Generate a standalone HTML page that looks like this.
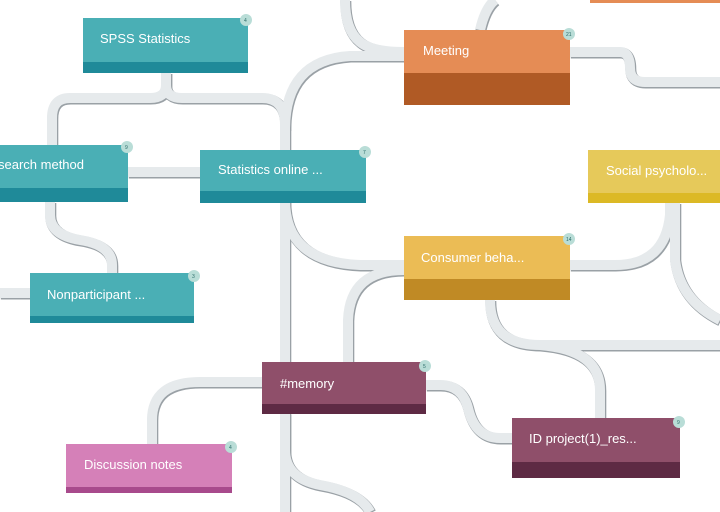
<!DOCTYPE html>
<html><head><meta charset="utf-8">
<style>
html,body{margin:0;padding:0;background:#fff;}
svg{display:block;}
text{font-family:"Liberation Sans",sans-serif;fill:#fff;font-size:13px;}
.b{font-size:5px;fill:#2a6b68;}
</style></head>
<body>
<svg width="720" height="512" viewBox="0 0 720 512">
<g fill="none" stroke-linecap="butt">
<g stroke="#9aa1a6" stroke-width="11" transform="translate(0.8,1)">
<path d="M166,73 V85 Q166,98 150,98 H70 Q52,98 52,118 V145"/>
<path d="M166,73 V85 Q166,98 182,98 H262 Q285,98 285,125 V512"/>
<path d="M128,172 H200"/>
<path d="M50,202 V215 Q50,235 80,240 Q112,245 112,265 V273"/>
<path d="M0,293 H30"/>
<path d="M285,130 Q285,60 350,56 H404"/>
<path d="M345,0 Q345,30 360,42 Q372,52 404,52"/>
<path d="M495,0 Q485,8 480,30"/>
<path d="M285,200 Q285,262 360,265 H404"/>
<path d="M404,270 Q350,270 348,320 V362"/>
<path d="M570,52 H620 Q630,52 630,68 Q630,82 645,82 H720"/>
<path d="M570,265 H615 Q665,265 670,215 V203"/>
<path d="M675,203 V260 Q680,300 720,320"/>
<path d="M490,300 Q490,345 540,345 H720"/>
<path d="M540,345 Q600,350 600,390 V418"/>
<path d="M262,382 H200 Q152,382 152,420 V444"/>
<path d="M426,385 H440 Q462,385 468,408 Q475,438 500,438 H512"/>
<path d="M285,414 V450 Q285,478 320,485 Q360,492 370,512"/>
</g>
<g stroke="#e6eaec" stroke-width="10">
<path d="M166,73 V85 Q166,98 150,98 H70 Q52,98 52,118 V145"/>
<path d="M166,73 V85 Q166,98 182,98 H262 Q285,98 285,125 V512"/>
<path d="M128,172 H200"/>
<path d="M50,202 V215 Q50,235 80,240 Q112,245 112,265 V273"/>
<path d="M0,293 H30"/>
<path d="M285,130 Q285,60 350,56 H404"/>
<path d="M345,0 Q345,30 360,42 Q372,52 404,52"/>
<path d="M495,0 Q485,8 480,30"/>
<path d="M285,200 Q285,262 360,265 H404"/>
<path d="M404,270 Q350,270 348,320 V362"/>
<path d="M570,52 H620 Q630,52 630,68 Q630,82 645,82 H720"/>
<path d="M570,265 H615 Q665,265 670,215 V203"/>
<path d="M675,203 V260 Q680,300 720,320"/>
<path d="M490,300 Q490,345 540,345 H720"/>
<path d="M540,345 Q600,350 600,390 V418"/>
<path d="M262,382 H200 Q152,382 152,420 V444"/>
<path d="M426,385 H440 Q462,385 468,408 Q475,438 500,438 H512"/>
<path d="M285,414 V450 Q285,478 320,485 Q360,492 370,512"/>
</g>
</g>

<rect x="590" y="0" width="130" height="3" fill="#e58c55"/>

<g>
<rect x="83" y="18" width="165" height="55" fill="#4aafb5"/><rect x="83" y="62" width="165" height="11" fill="#1f8a99"/>
<text x="100" y="43">SPSS Statistics</text>
<circle cx="246" cy="20" r="6" fill="#b9ddd7"/><text class="b" x="244" y="22">4</text></g>

<g>
<rect x="0" y="145" width="128" height="57" fill="#4aafb5"/><rect x="0" y="188" width="128" height="14" fill="#1f8a99"/>
<text x="-2" y="169">search method</text>
<circle cx="127" cy="147" r="6" fill="#b9ddd7"/><text class="b" x="125" y="149">9</text></g>

<g>
<rect x="200" y="150" width="166" height="53" fill="#4aafb5"/><rect x="200" y="191" width="166" height="12" fill="#1f8a99"/>
<text x="218" y="174">Statistics online ...</text>
<circle cx="365" cy="152" r="6" fill="#b9ddd7"/><text class="b" x="363" y="154">7</text></g>

<g>
<rect x="30" y="273" width="164" height="50" fill="#4aafb5"/><rect x="30" y="316" width="164" height="7" fill="#1f8a99"/>
<text x="47" y="299">Nonparticipant ...</text>
<circle cx="194" cy="276" r="6" fill="#b9ddd7"/><text class="b" x="192" y="278">3</text></g>

<g>
<rect x="404" y="30" width="166" height="75" fill="#e58c55"/><rect x="404" y="73" width="166" height="32" fill="#b05a25"/>
<text x="423" y="55">Meeting</text>
<circle cx="569" cy="34" r="6" fill="#b9ddd7"/><text class="b" x="566" y="36">21</text></g>

<g>
<rect x="588" y="150" width="132" height="53" fill="#e6c95a"/><rect x="588" y="193" width="132" height="10" fill="#dcb925"/>
<text x="606" y="175">Social psycholo...</text></g>

<g>
<rect x="404" y="236" width="166" height="64" fill="#ebbc55"/><rect x="404" y="279" width="166" height="21" fill="#c08a25"/>
<text x="421" y="262">Consumer beha...</text>
<circle cx="569" cy="239" r="6" fill="#b9ddd7"/><text class="b" x="566" y="241">14</text></g>

<g>
<rect x="262" y="362" width="164" height="52" fill="#8f4f6a"/><rect x="262" y="404" width="164" height="10" fill="#5e2a44"/>
<text x="280" y="388">#memory</text>
<circle cx="425" cy="366" r="6" fill="#b9ddd7"/><text class="b" x="423" y="368">5</text></g>

<g>
<rect x="512" y="418" width="168" height="60" fill="#8f4f6a"/><rect x="512" y="462" width="168" height="16" fill="#5e2a44"/>
<text x="529" y="443">ID project(1)_res...</text>
<circle cx="679" cy="422" r="6" fill="#b9ddd7"/><text class="b" x="677" y="424">9</text></g>

<g>
<rect x="66" y="444" width="166" height="49" fill="#d580b8"/><rect x="66" y="487" width="166" height="6" fill="#a84a8c"/>
<text x="84" y="469">Discussion notes</text>
<circle cx="231" cy="447" r="6" fill="#b9ddd7"/><text class="b" x="229" y="449">4</text></g>
</svg>
</body></html>
